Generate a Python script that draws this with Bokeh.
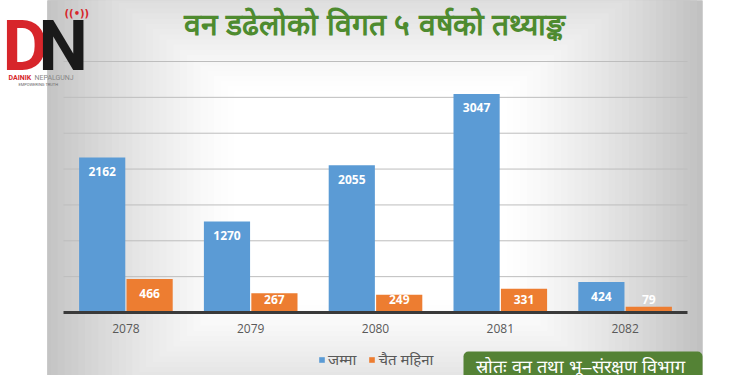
import numpy as np
from bokeh.plotting import figure
from bokeh.models import (ColumnDataSource, FactorRange, BoxAnnotation, Label,
                          Legend, LegendItem)
from bokeh.transform import dodge
from bokeh.core.properties import value
from bokeh.embed import file_html
from bokeh.resources import INLINE

# ---------------- data ----------------
years = ["2078", "2079", "2080", "2081", "2082"]
total_fires = [2162, 1270, 2055, 3047, 424]      # जम्मा
chait_fires = [466, 267, 249, 331, 79]           # चैत महिना
series_names = ["जम्मा", "चैत महिना"]
grid_values = [500, 1000, 1500, 2000, 2500, 3000, 3500]
title_text = "वन डढेलोको विगत ५ वर्षको तथ्याङ्क"
source_text = "स्रोतः वन तथा भू–संरक्षण विभाग"

# ---------------- layout constants ----------------
W, H = 750, 375
PLOT_L, PLOT_R = 63, 687          # px of plot area (category span)
Y0_PX, YTOP_PX = 312, 61          # px of value 0 and of YMAX
YMAX = 3500
upp = YMAX / (Y0_PX - YTOP_PX)    # data units per pixel
unit_px = (PLOT_R - PLOT_L) / len(years)
pad_left = PLOT_L / unit_px
pad_right = (W - PLOT_R) / unit_px

BLUE = "#5b9bd5"
ORANGE = "#ed7d31"
GREEN = "#548235"


def label_y(v):
    px = v / upp
    return max(px - 14, 13) * upp


src = ColumnDataSource(dict(
    year=years,
    total=total_fires,
    chait=chait_fires,
    total_lbl=[str(v) for v in total_fires],
    chait_lbl=[str(v) for v in chait_fires],
    total_y=[label_y(v) for v in total_fires],
    chait_y=[label_y(v) for v in chait_fires],
    year_y=[-16 * upp] * len(years),
))

xr = FactorRange(factors=years, range_padding=(pad_left + pad_right) / len(years),
                 range_padding_units="percent")
p = figure(x_range=xr, y_range=(-(H - Y0_PX) * upp, YMAX + YTOP_PX * upp),
           width=W, height=H, output_backend="svg", toolbar_location=None,
           min_border=0)
p.border_fill_color = "white"
p.background_fill_color = "white"
p.outline_line_color = None
p.xaxis.visible = False
p.yaxis.visible = False
p.xgrid.visible = False
p.ygrid.visible = False


def fx(x):
    return x


def fy(y):
    return H - y


# ---------------- background gradient (slide) ----------------
SL, SR, ST, SB = fx(47), fx(702), fy(-5), fy(380)
cx, cy = fx(370), fy(195)
HX, HY = 340.0, 260.0


def shade(d):
    if d <= 0.4:
        return 255
    t = min((d - 0.4) / 0.6, 1.0)
    return int(round(255 - 65 * t ** 1.3))


ds = [1.0] + list(np.arange(0.98, 0.39, -0.02))
for d in ds:
    if d >= 1.0:
        l, r, t, b = SL, SR, ST, SB
    else:
        l = max(SL, cx - d * HX)
        r = min(SR, cx + d * HX)
        t = min(ST, cy + d * HY)
        b = max(SB, cy - d * HY)
    c = shade(d)
    col = "#%02x%02x%02x" % (c, c, c)
    p.add_layout(BoxAnnotation(left=l, right=r, top=t, bottom=b,
                               left_units="screen", right_units="screen",
                               top_units="screen", bottom_units="screen",
                               fill_color=col, fill_alpha=1.0, line_color=None,
                               level="image"))

# ---------------- grid lines & baseline ----------------
gsrc = ColumnDataSource(dict(y=grid_values,
                             a=[years[0]] * len(grid_values),
                             b=[years[-1]] * len(grid_values)))
p.segment(x0=dodge("a", -0.5, range=xr), x1=dodge("b", 0.5, range=xr),
          y0="y", y1="y", source=gsrc, line_color="#bdbdbd", line_width=1)
bsrc = ColumnDataSource(dict(y=[0], a=[years[0]], b=[years[-1]]))

# ---------------- bars ----------------
r1 = p.vbar(x=dodge("year", -0.19, range=xr), top="total", width=0.37,
            source=src, fill_color=BLUE, line_color=None)
r2 = p.vbar(x=dodge("year", 0.19, range=xr), top="chait", width=0.37,
            source=src, fill_color=ORANGE, line_color=None)

p.segment(x0=dodge("a", -0.5, range=xr), x1=dodge("b", 0.5, range=xr),
          y0="y", y1="y", source=bsrc, line_color="#3a3a3a", line_width=3)

for xo, ycol, tcol in [(-0.19, "total_y", "total_lbl"), (0.19, "chait_y", "chait_lbl")]:
    p.text(x=dodge("year", xo, range=xr), y=ycol, text=tcol, source=src,
           text_color="white", text_font=value("Open Sans"), text_font_style="bold",
           text_font_size="12px", text_align="center", text_baseline="middle")

# category labels (x axis)
p.text(x="year", y="year_y", text="year", source=src, text_color="#595959",
       text_font=value("Open Sans"), text_font_size="12px",
       text_align="center", text_baseline="middle")

# ---------------- legend ----------------
legend = Legend(items=[LegendItem(label=value(series_names[0]), renderers=[r1]),
                       LegendItem(label=value(series_names[1]), renderers=[r2])],
                orientation="horizontal", location=(fx(318), fy(359) - 10),
                glyph_width=7, glyph_height=7, label_standoff=3, spacing=12,
                label_text_font_size="15px", label_text_color="#595959",
                label_text_font="Noto Sans",
                background_fill_alpha=0, border_line_alpha=0, padding=0, margin=0)
p.add_layout(legend, "center")

# ---------------- title ----------------
p.add_layout(Label(x=fx(374), y=fy(24), x_units="screen", y_units="screen",
                   text=title_text, text_align="center", text_baseline="middle",
                   text_font_size="30px", text_font_style="bold",
                   text_color="#4e8b2f"))

# ---------------- source box ----------------
p.add_layout(BoxAnnotation(left=fx(463), right=fx(702), top=fy(351), bottom=fy(385),
                           left_units="screen", right_units="screen",
                           top_units="screen", bottom_units="screen",
                           fill_color=GREEN, fill_alpha=1.0, line_color=None,
                           border_radius=5, level="overlay"))
p.add_layout(Label(x=fx(475), y=fy(366), x_units="screen", y_units="screen",
                   text=source_text, text_align="left", text_baseline="middle",
                   text_font_size="18px", text_color="white", level="overlay"))

# ---------------- logo (approximation) ----------------
p.add_layout(Label(x=fx(2), y=fy(45), x_units="screen", y_units="screen",
                   text="D", text_font_size="70px", text_font_style="bold",
                   text_baseline="middle",
                   text_font="Roboto", text_color="#d7262b"))
p.add_layout(Label(x=fx(38), y=fy(45), x_units="screen", y_units="screen",
                   text="N", text_font_size="70px", text_font_style="bold",
                   text_baseline="middle",
                   text_font="Roboto", text_color="#1a1a1a"))
p.add_layout(Label(x=fx(64), y=fy(13), x_units="screen", y_units="screen",
                   text="((•))", text_font_size="10px", text_font_style="bold",
                   text_baseline="middle",
                   text_font="DejaVu Sans", text_color="#d7262b"))
p.add_layout(Label(x=fx(8), y=fy(77), x_units="screen", y_units="screen",
                   text="DAINIK", text_font_size="7px", text_font_style="bold",
                   text_baseline="middle",
                   text_font="Roboto", text_color="#d7262b"))
p.add_layout(Label(x=fx(34), y=fy(77), x_units="screen", y_units="screen",
                   text="NEPALGUNJ", text_font_size="7px",
                   text_baseline="middle",
                   text_font="Roboto", text_color="#888888"))
p.add_layout(Label(x=fx(18), y=fy(84), x_units="screen", y_units="screen",
                   text="EMPOWERING TRUTH", text_font_size="4px",
                   text_baseline="middle",
                   text_font="Roboto", text_color="#666666"))

open("out.html", "w").write(file_html(p, INLINE))
